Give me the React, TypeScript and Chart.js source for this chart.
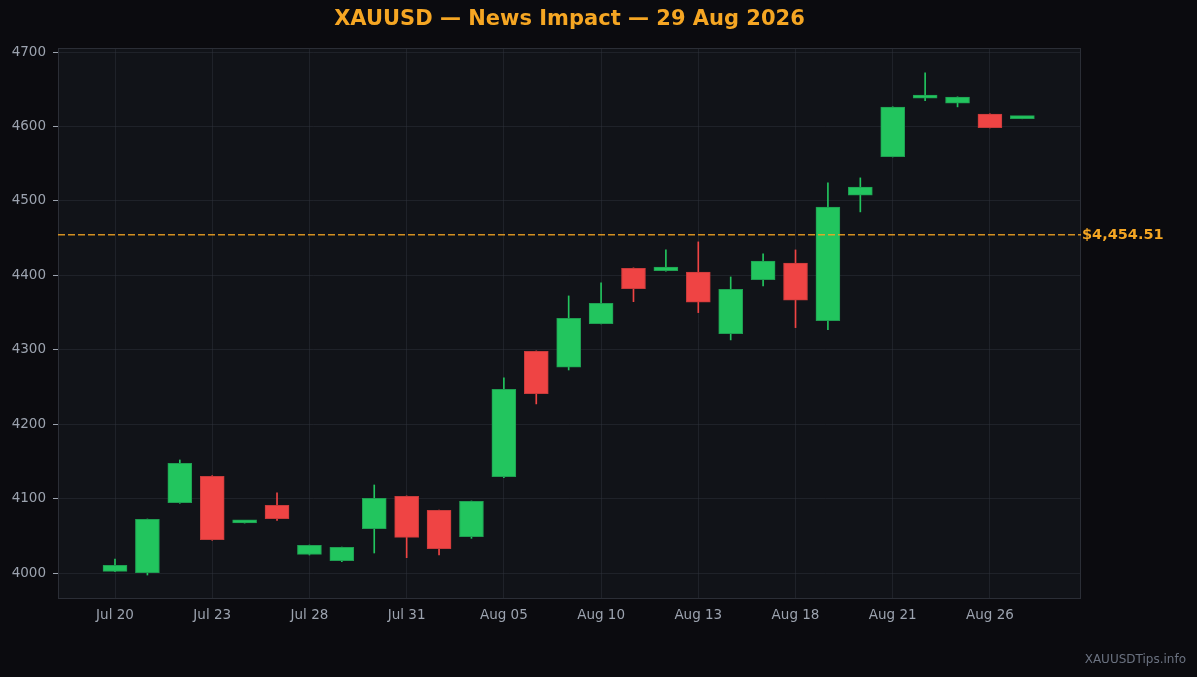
import React, { useEffect, useRef } from "react";
import { Chart, registerables } from "chart.js";
Chart.register(...registerables);

const dates = [
	"Jul 20", "Jul 21", "Jul 22", "Jul 23", "Jul 24", "Jul 27", "Jul 28", "Jul 29", "Jul 30", "Jul 31",
	"Aug 03", "Aug 04", "Aug 05", "Aug 06", "Aug 07", "Aug 10", "Aug 11", "Aug 12", "Aug 13", "Aug 14",
	"Aug 17", "Aug 18", "Aug 19", "Aug 20", "Aug 21", "Aug 24", "Aug 25", "Aug 26", "Aug 27",
];
const opens = [
	4002.3, 4000.4, 4094.5, 4130.0, 4067.4, 4091.0, 4025.1, 4016.5, 4059.5, 4103.1,
	4084.3, 4048.8, 4129.4, 4298.0, 4276.5, 4335.1, 4409.5, 4406.3, 4404.2, 4321.6,
	4394.2, 4416.3, 4339.1, 4507.7, 4559.5, 4638.0, 4631.3, 4616.5, 4610.6,
];
const closes = [
	4010.3, 4072.2, 4147.4, 4044.8, 4068.3, 4073.0, 4037.2, 4034.5, 4100.4, 4048.0,
	4032.7, 4096.4, 4246.9, 4241.0, 4342.3, 4362.5, 4382.1, 4410.9, 4363.8, 4381.3,
	4419.0, 4366.5, 4491.5, 4518.4, 4625.9, 4642.0, 4639.4, 4598.5, 4611.4,
];
const highs = [
	4018.8, 4072.6, 4151.9, 4130.8, 4068.5, 4107.9, 4037.6, 4034.8, 4118.3, 4103.6,
	4084.7, 4096.8, 4262.1, 4298.4, 4372.3, 4389.8, 4410.0, 4434.1, 4444.9, 4397.8,
	4428.8, 4434.1, 4524.2, 4530.9, 4626.4, 4672.0, 4639.8, 4617.0, 4611.8,
];
const lows = [
	4001.8, 3997.3, 4093.7, 4044.0, 4067.1, 4070.8, 4024.2, 4015.2, 4026.9, 4020.6,
	4024.2, 4046.6, 4128.1, 4227.2, 4272.8, 4334.6, 4364.6, 4405.5, 4349.9, 4313.2,
	4385.8, 4329.7, 4327.0, 4485.2, 4559.0, 4634.8, 4626.3, 4598.0, 4610.3,
];
const xTickIndexes = [0, 3, 6, 9, 12, 15, 18, 21, 24, 27];
const yTickValues = [4000, 4100, 4200, 4300, 4400, 4500, 4600, 4700];
const lastPrice = 4454.51;
const title = "XAUUSD — News Impact — 29 Aug 2026";
const watermark = "XAUUSDTips.info";

const UP = "#22c55e";
const DOWN = "#ef4444";
const UP_EDGE = "#1f9f52";
const DOWN_EDGE = "#c93b3b";
const FONT = "'DejaVu Sans', sans-serif";

const chartDecor = {
	id: "chartDecor",
	beforeDraw(chart: any) {
		const { ctx, chartArea: a } = chart;
		ctx.save();
		ctx.fillStyle = "#111318";
		ctx.fillRect(a.left, a.top, a.right - a.left, a.bottom - a.top);
		ctx.restore();
	},
	afterDraw(chart: any) {
		const { ctx, chartArea: a } = chart;
		const y = chart.scales.y.getPixelForValue(lastPrice);
		ctx.save();
		// frame
		ctx.strokeStyle = "#2b2e36";
		ctx.lineWidth = 1;
		ctx.strokeRect(a.left + 0.5, a.top + 0.5, a.right - a.left - 1, a.bottom - a.top - 1);
		// last price line
		ctx.strokeStyle = "rgba(245,166,35,0.85)";
		ctx.lineWidth = 1.6;
		ctx.setLineDash([7, 3]);
		ctx.beginPath();
		ctx.moveTo(a.left, y);
		ctx.lineTo(a.right, y);
		ctx.stroke();
		ctx.setLineDash([]);
		ctx.fillStyle = "#f5a623";
		ctx.font = `bold 14.5px ${FONT}`;
		ctx.textAlign = "left";
		ctx.textBaseline = "middle";
		ctx.fillText("$" + lastPrice.toLocaleString("en-US", { minimumFractionDigits: 2 }), a.right + 1, y);
		// title
		ctx.font = `bold 21px ${FONT}`;
		ctx.textAlign = "center";
		ctx.fillText(title, (a.left + a.right) / 2, 20);
		// watermark
		ctx.fillStyle = "#6b7280";
		ctx.font = `12px ${FONT}`;
		ctx.textAlign = "right";
		ctx.fillText(watermark, chart.width - 11, 660);
		ctx.restore();
	},
};

export default function App() {
	const chartRef = useRef<HTMLCanvasElement | null>(null);
	const chartInstanceRef = useRef<Chart | null>(null);

	useEffect(() => {
		if (!chartRef.current) return;
		const ctx = chartRef.current.getContext("2d");
		if (!ctx) return;
		if (chartInstanceRef.current) chartInstanceRef.current.destroy();

		const colors = opens.map((o, i) => (closes[i] >= o ? UP : DOWN));
		const edges = opens.map((o, i) => (closes[i] >= o ? UP_EDGE : DOWN_EDGE));

		chartInstanceRef.current = new Chart(ctx, {
			type: "bar",
			data: {
				datasets: [
					{
						label: "Body",
						data: opens.map((o, i) => ({ x: i, y: [o, closes[i]] })) as any,
						backgroundColor: colors,
						borderColor: edges,
						borderWidth: 1,
						borderSkipped: false,
						barThickness: 24,
						minBarLength: 3,
						grouped: false,
						order: 0,
					},
					{
						label: "Wick",
						data: lows.map((l, i) => ({ x: i, y: [l, highs[i]] })) as any,
						backgroundColor: colors,
						borderWidth: 0,
						barThickness: 1,
						grouped: false,
						order: 1,
					},
				],
			},
			options: {
				animation: false,
				responsive: true,
				maintainAspectRatio: false,
				layout: { padding: { left: 0, right: 116, top: 48, bottom: 0 } },
				plugins: {
					legend: { display: false },
					tooltip: { enabled: false },
					title: { display: false },
				},
				scales: {
					x: {
						type: "linear",
						min: -1.759,
						max: 29.81,
						offset: false,
						z: 1,
						afterBuildTicks: (scale: any) => {
							scale.ticks = xTickIndexes.map((v) => ({ value: v }));
						},
						afterFit: (scale: any) => {
							scale.height = 78;
						},
						grid: {
							offset: false,
							color: "rgba(48,53,63,0.45)",
							tickColor: "transparent",
							tickLength: 5,
						},
						border: { display: false },
						ticks: {
							color: "#9ca3af",
							font: { family: FONT, size: 13.5 },
							padding: 3,
							maxRotation: 0,
							autoSkip: false,
							callback: (v: any) => dates[Number(v)] ?? "",
						},
					},
					y: {
						type: "linear",
						min: 3965.1,
						max: 4705.4,
						z: 1,
						afterBuildTicks: (scale: any) => {
							scale.ticks = yTickValues.map((v) => ({ value: v }));
						},
						afterFit: (scale: any) => {
							scale.width = 58;
						},
						grid: {
							color: "rgba(48,53,63,0.45)",
							tickColor: "#9ca3af",
							tickLength: 5,
						},
						border: { display: false },
						ticks: {
							color: "#9ca3af",
							font: { family: FONT, size: 13.5 },
							padding: 7,
							callback: (v: any) => String(v),
						},
					},
				},
			},
			plugins: [chartDecor],
		});

		return () => {
			if (chartInstanceRef.current) {
				chartInstanceRef.current.destroy();
				chartInstanceRef.current = null;
			}
		};
	}, []);

	return (
		<div style={{ position: "absolute", left: 0, top: 0, width: 1197, height: 677, background: "#0b0b0f" }}>
			<canvas ref={chartRef} />
		</div>
	);
}
